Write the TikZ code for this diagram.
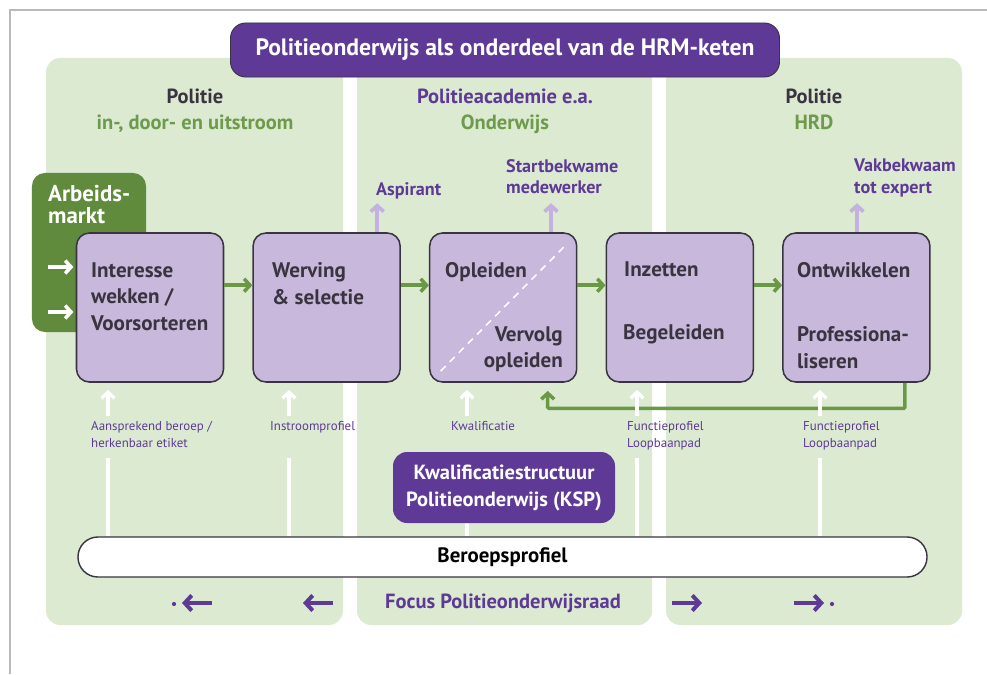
\documentclass[tikz,border=0pt]{standalone}
\usepackage{fontspec}
\setmainfont{PT Sans}
\usetikzlibrary{arrows.meta, positioning}

\definecolor{panelgreen}{HTML}{DCEAD2}
\definecolor{darkpurple}{HTML}{5E3A96}
\definecolor{boxpurple}{HTML}{C8B9DC}
\definecolor{boxline}{HTML}{3A3340}
\definecolor{arrowgreen}{HTML}{6A9946}
\definecolor{marktgreen}{HTML}{608B3C}
\definecolor{headgreen}{HTML}{6E9A4C}
\definecolor{palepurple}{HTML}{C4B2DE}

\begin{document}
\begin{tikzpicture}[x=0.03cm, y=-0.03cm, >={Straight Barb[length=5pt, width=11pt]},
    stepbox/.style={draw=boxline, line width=1.3pt, fill=boxpurple, rounded corners=11pt, minimum width=4.41cm, minimum height=4.47cm},
    boxtext/.style={anchor=north west, inner sep=0pt, align=left, text=boxline, font=\fontsize{18}{23}\selectfont\bfseries},
    outlabel/.style={anchor=north west, inner sep=0pt, align=left, text=darkpurple, font=\fontsize{15.5}{18}\selectfont\bfseries},
    inlabel/.style={anchor=north west, inner sep=0pt, align=left, text=darkpurple, font=\fontsize{11}{14.5}\selectfont},
    header/.style={font=\fontsize{17.5}{18}\selectfont\bfseries, inner sep=0pt, anchor=base},
    flow/.style={->, draw=arrowgreen, line width=3pt},
    outflow/.style={->, draw=palepurple, line width=3.2pt},
    inflow/.style={->, draw=white, line width=3pt},
    focusflow/.style={-{Straight Barb[length=6pt, width=13pt]}, draw=darkpurple, line width=3.4pt}]
    \useasboundingbox (0,0) rectangle (987,674);
    \draw[gray!55, line width=1pt] (10,674) -- (10,10) -- (987,10);

    % Define panels
    \fill[panelgreen, rounded corners=12pt] (46,58) rectangle (343,625);
    \fill[panelgreen, rounded corners=12pt] (357,58) rectangle (652,625);
    \fill[panelgreen, rounded corners=12pt] (666,58) rectangle (962,625);

    % Define headers
    \node[fill=darkpurple, draw=boxline, line width=0.8pt, rounded corners=13pt, minimum width=16.47cm, minimum height=1.62cm, text=white, font=\fontsize{20.2}{22}\selectfont\bfseries] (title) at (505,50) {Politieonderwijs als onderdeel van de HRM-keten};
    \node[header, text=boxline] (polin) at (195,103) {Politie};
    \node[header, text=headgreen] (stroom) at (195,129) {in-, door- en uitstroom};
    \node[header, text=darkpurple] (academie) at (505,103) {Politieacademie e.a.};
    \node[header, text=headgreen] (onderwijs) at (505,129) {Onderwijs};
    \node[header, text=boxline] (polhrd) at (814,103) {Politie};
    \node[header, text=headgreen] (hrd) at (814,129) {HRD};

    % Define arbeidsmarkt
    \node[fill=marktgreen, rounded corners=11pt, minimum width=3.42cm, minimum height=4.77cm] (markt) at (89,252.5) {};
    \node[anchor=north west, inner sep=0pt, align=left, text=white, font=\fontsize{19.5}{19}\selectfont\bfseries] (markttext) at (48,185) {Arbeids-\\markt};

    % Define steps
    \node[stepbox] (b1) at (150,307.5) {};
    \node[stepbox] (b2) at (326.6,307.5) {};
    \node[stepbox] (b3) at (503.2,307.5) {};
    \node[stepbox] (b4) at (679.8,307.5) {};
    \node[stepbox] (b5) at (856.4,307.5) {};
    \node[boxtext] (t1) at (91,262) {Interesse\\wekken /\\Voorsorteren};
    \node[boxtext] (t2) at (272,262) {Werving\\\& selectie};
    \draw[white, line width=1.3pt, dash pattern=on 6pt off 5pt] ([xshift=10pt, yshift=10pt]b3.south west) -- ([xshift=-9pt, yshift=-10pt]b3.north east);
    \node[boxtext] (t3) at (445,262) {Opleiden};
    \node[boxtext, anchor=north east, align=right] (t3b) at (563,326) {Vervolg\\opleiden};
    \node[boxtext] (t4) at (624,262) {Inzetten};
    \node[boxtext] (t4b) at (623,324) {Begeleiden};
    \node[boxtext] (t5) at (797,262) {Ontwikkelen};
    \node[boxtext] (t5b) at (797,326) {Professiona-\\liseren};

    % Define outputs and inputs
    \node[outlabel] (aspirant) at (376,182) {Aspirant};
    \node[outlabel] (startbekwaam) at (506,159) {Startbekwame\\medewerker};
    \node[outlabel] (vakbekwaam) at (854,159) {Vakbekwaam\\tot expert};
    \node[inlabel] (l1) at (91,421) {Aansprekend beroep /\\herkenbaar etiket};
    \node[inlabel] (l2) at (270,421) {Instroomprofiel};
    \node[inlabel] (l3) at (451,421) {Kwalificatie};
    \node[inlabel] (l4) at (627,421) {Functieprofiel\\Loopbaanpad};
    \node[inlabel] (l5) at (803,421) {Functieprofiel\\Loopbaanpad};

    % Draw flow
    \draw[flow] ([yshift=19pt]b1.east) -- ([yshift=19pt]b2.west);
    \draw[flow] ([yshift=19pt]b2.east) -- ([yshift=19pt]b3.west);
    \draw[flow] ([yshift=19pt]b3.east) -- ([yshift=19pt]b4.west);
    \draw[flow] ([yshift=19pt]b4.east) -- ([yshift=19pt]b5.west);
    \draw[flow, rounded corners=1pt] ([xshift=41.4pt]b5.south) -- ++(0,25.5) -| ([xshift=38pt, yshift=-7pt]b3.south); % terug
    \draw[inflow, shorten >=2pt] (48,267) -- (b1.west |- 0,267);
    \draw[inflow, shorten >=2pt] (48,312) -- (b1.west |- 0,312);
    \draw[outflow] ([xshift=43.2pt]b2.north) -- ++(0,-29);
    \draw[outflow] ([xshift=40.8pt]b3.north) -- ++(0,-29);
    \draw[outflow] ([xshift=0.5pt]b5.north) -- ++(0,-29);

    % Define base
    \node[fill=white, draw=boxline, line width=1.2pt, rounded corners=17pt, minimum width=25.47cm, minimum height=1.2cm, font=\fontsize{17.8}{18}\selectfont\bfseries, text=black] (beroep) at (502.5,557) {Beroepsprofiel};
    \foreach \x/\l in {108/l1, 289/l2, 467/l3, 637/l4, 820/l5} {
        \draw[white, line width=2.6pt] (\x,458) -- (beroep.north -| \x,0);
        \draw[inflow] (\x,416) -- (\x,390);
    }
    \node[fill=darkpurple, rounded corners=12pt, minimum width=6.66cm, minimum height=2.13cm, align=center, text=white, font=\fontsize{17.5}{23}\selectfont\bfseries] (ksp) at (504,487.5) {Kwalificatiestructuur\\Politieonderwijs (KSP)};

    % Define focus
    \node[text=darkpurple, font=\fontsize{17.5}{18}\selectfont\bfseries] (focus) at (503,603) {Focus Politieonderwijsraad};
    \draw[focusflow] (212,603) -- (182,603);
    \fill[darkpurple] (174,604) circle (1.8pt);
    \draw[focusflow] (333,603) -- (303,603);
    \draw[focusflow] (672,603) -- (702,603);
    \draw[focusflow] (794,603) -- (824,603);
    \fill[darkpurple] (832,604) circle (1.8pt);
\end{tikzpicture}
\end{document}
